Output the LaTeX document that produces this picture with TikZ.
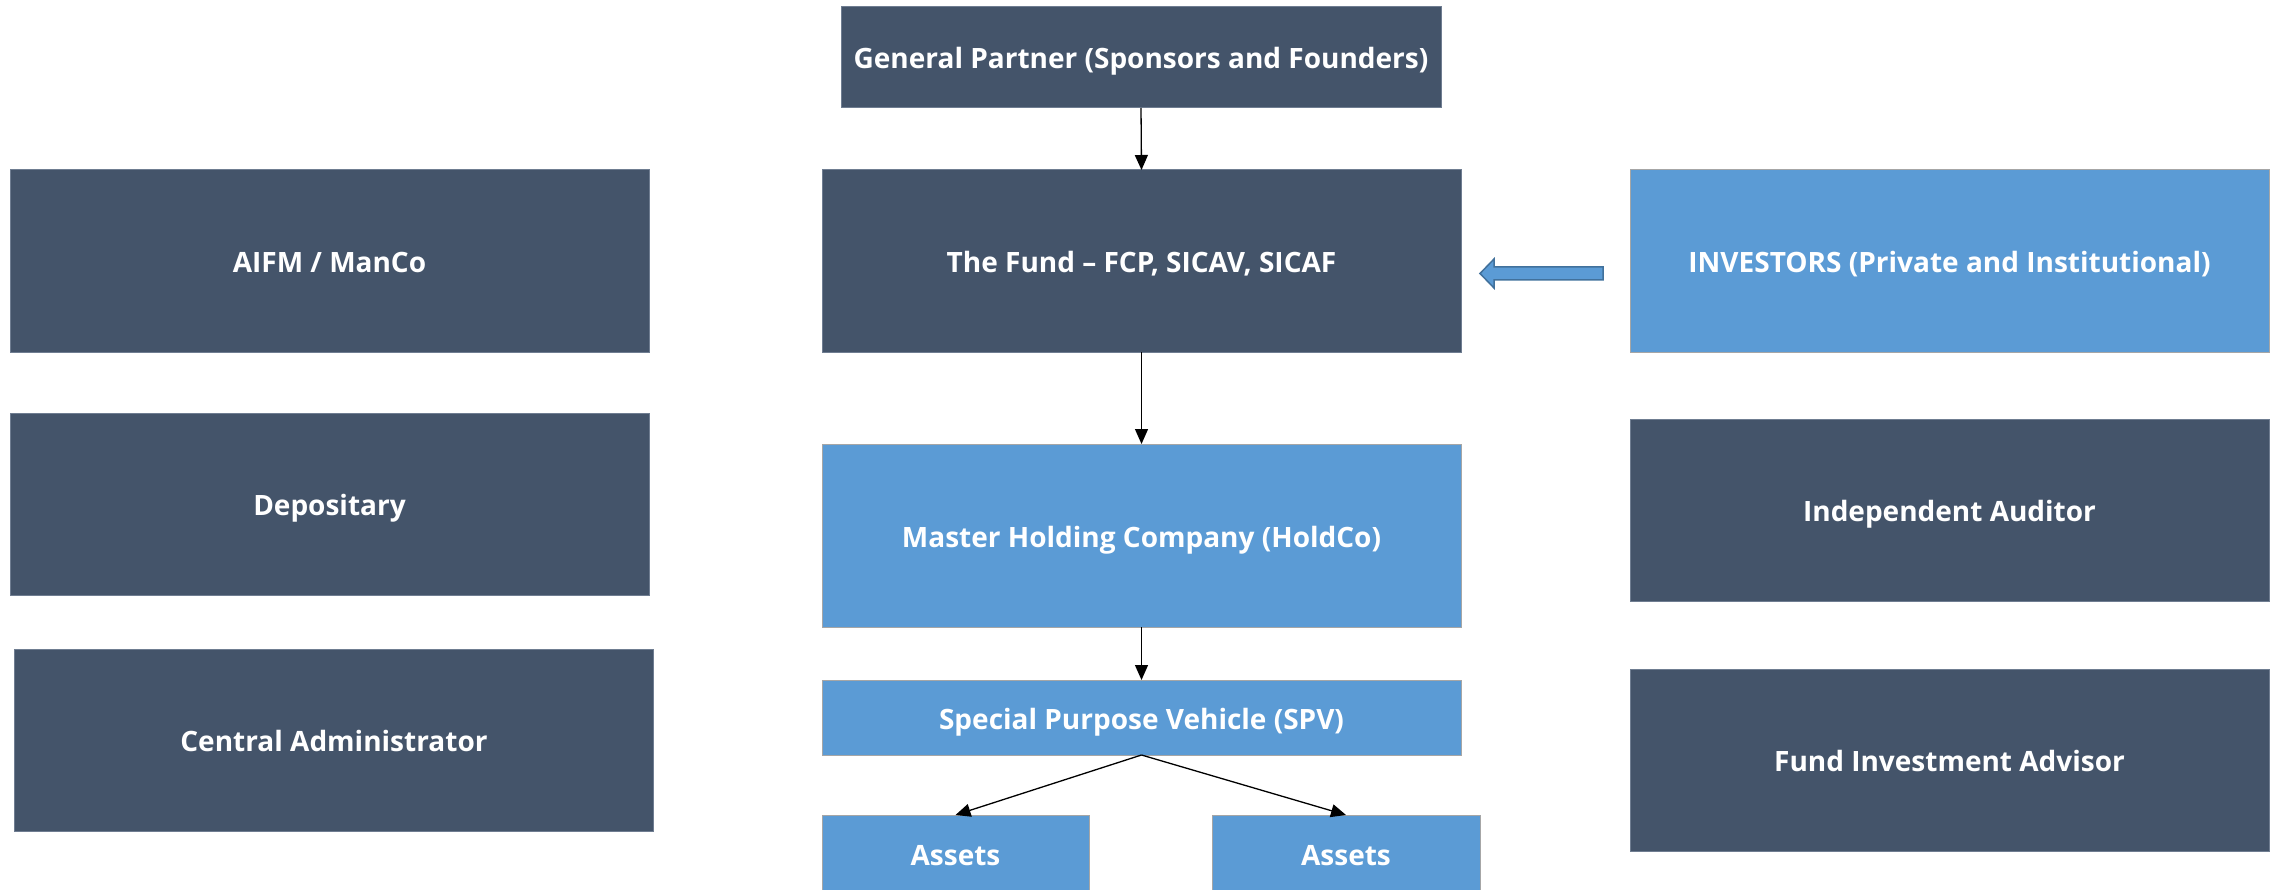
\documentclass[tikz,border=0pt]{standalone}
\usepackage{fontspec}
\setmainfont{Open Sans}
\usetikzlibrary{arrows.meta,calc}
\definecolor{darkbox}{HTML}{44546A}
\definecolor{lightbox}{HTML}{5B9BD5}
\definecolor{darkedge}{HTML}{6F7D91}
\definecolor{lightedge}{HTML}{A6A6A6}
\definecolor{arrowedge}{HTML}{41719C}
\begin{document}
\begin{tikzpicture}[x=1pt,y=-1pt,
  base/.style={rectangle,inner sep=0pt,outer sep=0pt,text=white,
    font=\fontsize{28}{32}\selectfont\bfseries,line width=1pt,
    text height=23pt,text depth=0pt},
  dbox/.style={base,fill=darkbox,draw=darkedge},
  lbox/.style={base,fill=lightbox,draw=lightedge},
  wide/.style={minimum width=639pt,minimum height=182pt},
  conn/.style={line width=1.3pt,-{Triangle[length=15pt,width=13pt]}}]
\useasboundingbox (0,0) rectangle (2282,890);
\node[dbox,minimum width=600pt,minimum height=101pt] (gp) at (1141,57.5) {General Partner (Sponsors and Founders)};
\node[dbox,wide] (fund) at (1141.5,261) {The Fund – FCP, SICAV, SICAF};
\node[dbox,wide] (aifm) at (329.5,261) {AIFM / ManCo};
\node[lbox,wide] (inv) at (1949.5,261) {INVESTORS (Private and Institutional)};
\node[dbox,wide] (dep) at (329.5,504) {Depositary};
\node[lbox,wide,minimum height=183pt] (hold) at (1141.5,535.5) {Master Holding Company (HoldCo)};
\node[dbox,wide] (aud) at (1949.5,510) {Independent Auditor};
\node[dbox,wide] (adm) at (334,740) {Central Administrator};
\node[lbox,minimum width=639pt,minimum height=75pt] (spv) at (1141.5,717.5) {Special Purpose Vehicle (SPV)};
\node[dbox,wide] (adv) at (1949.5,760) {Fund Investment Advisor};
\node[lbox,minimum width=267pt,minimum height=77pt] (as1) at (955.5,853.5) {Assets};
\node[lbox,minimum width=268pt,minimum height=77pt] (as2) at (1346,853.5) {Assets};
\draw[conn] (gp.south) -- (fund.north);
\draw[conn] (fund.south) -- (hold.north);
\draw[conn] (hold.south) -- (spv.north);
\draw[conn] (spv.south) -- (as1.north);
\draw[conn] (spv.south) -- (as2.north);
\coordinate (bt) at ($(fund.east)+(19,12.5)$);
\coordinate (bs) at ($(inv.west)+(-27,12.5)$);
\draw[fill=lightbox,draw=arrowedge,line width=1.5pt,line join=miter]
  (bt) -- ($(bt)+(14,-14.5)$) -- ($(bt)+(14,-6.5)$) -- ($(bs)+(0,-6.5)$)
  -- ($(bs)+(0,6.5)$) -- ($(bt)+(14,6.5)$) -- ($(bt)+(14,14.5)$) -- cycle;
\end{tikzpicture}
\end{document}
